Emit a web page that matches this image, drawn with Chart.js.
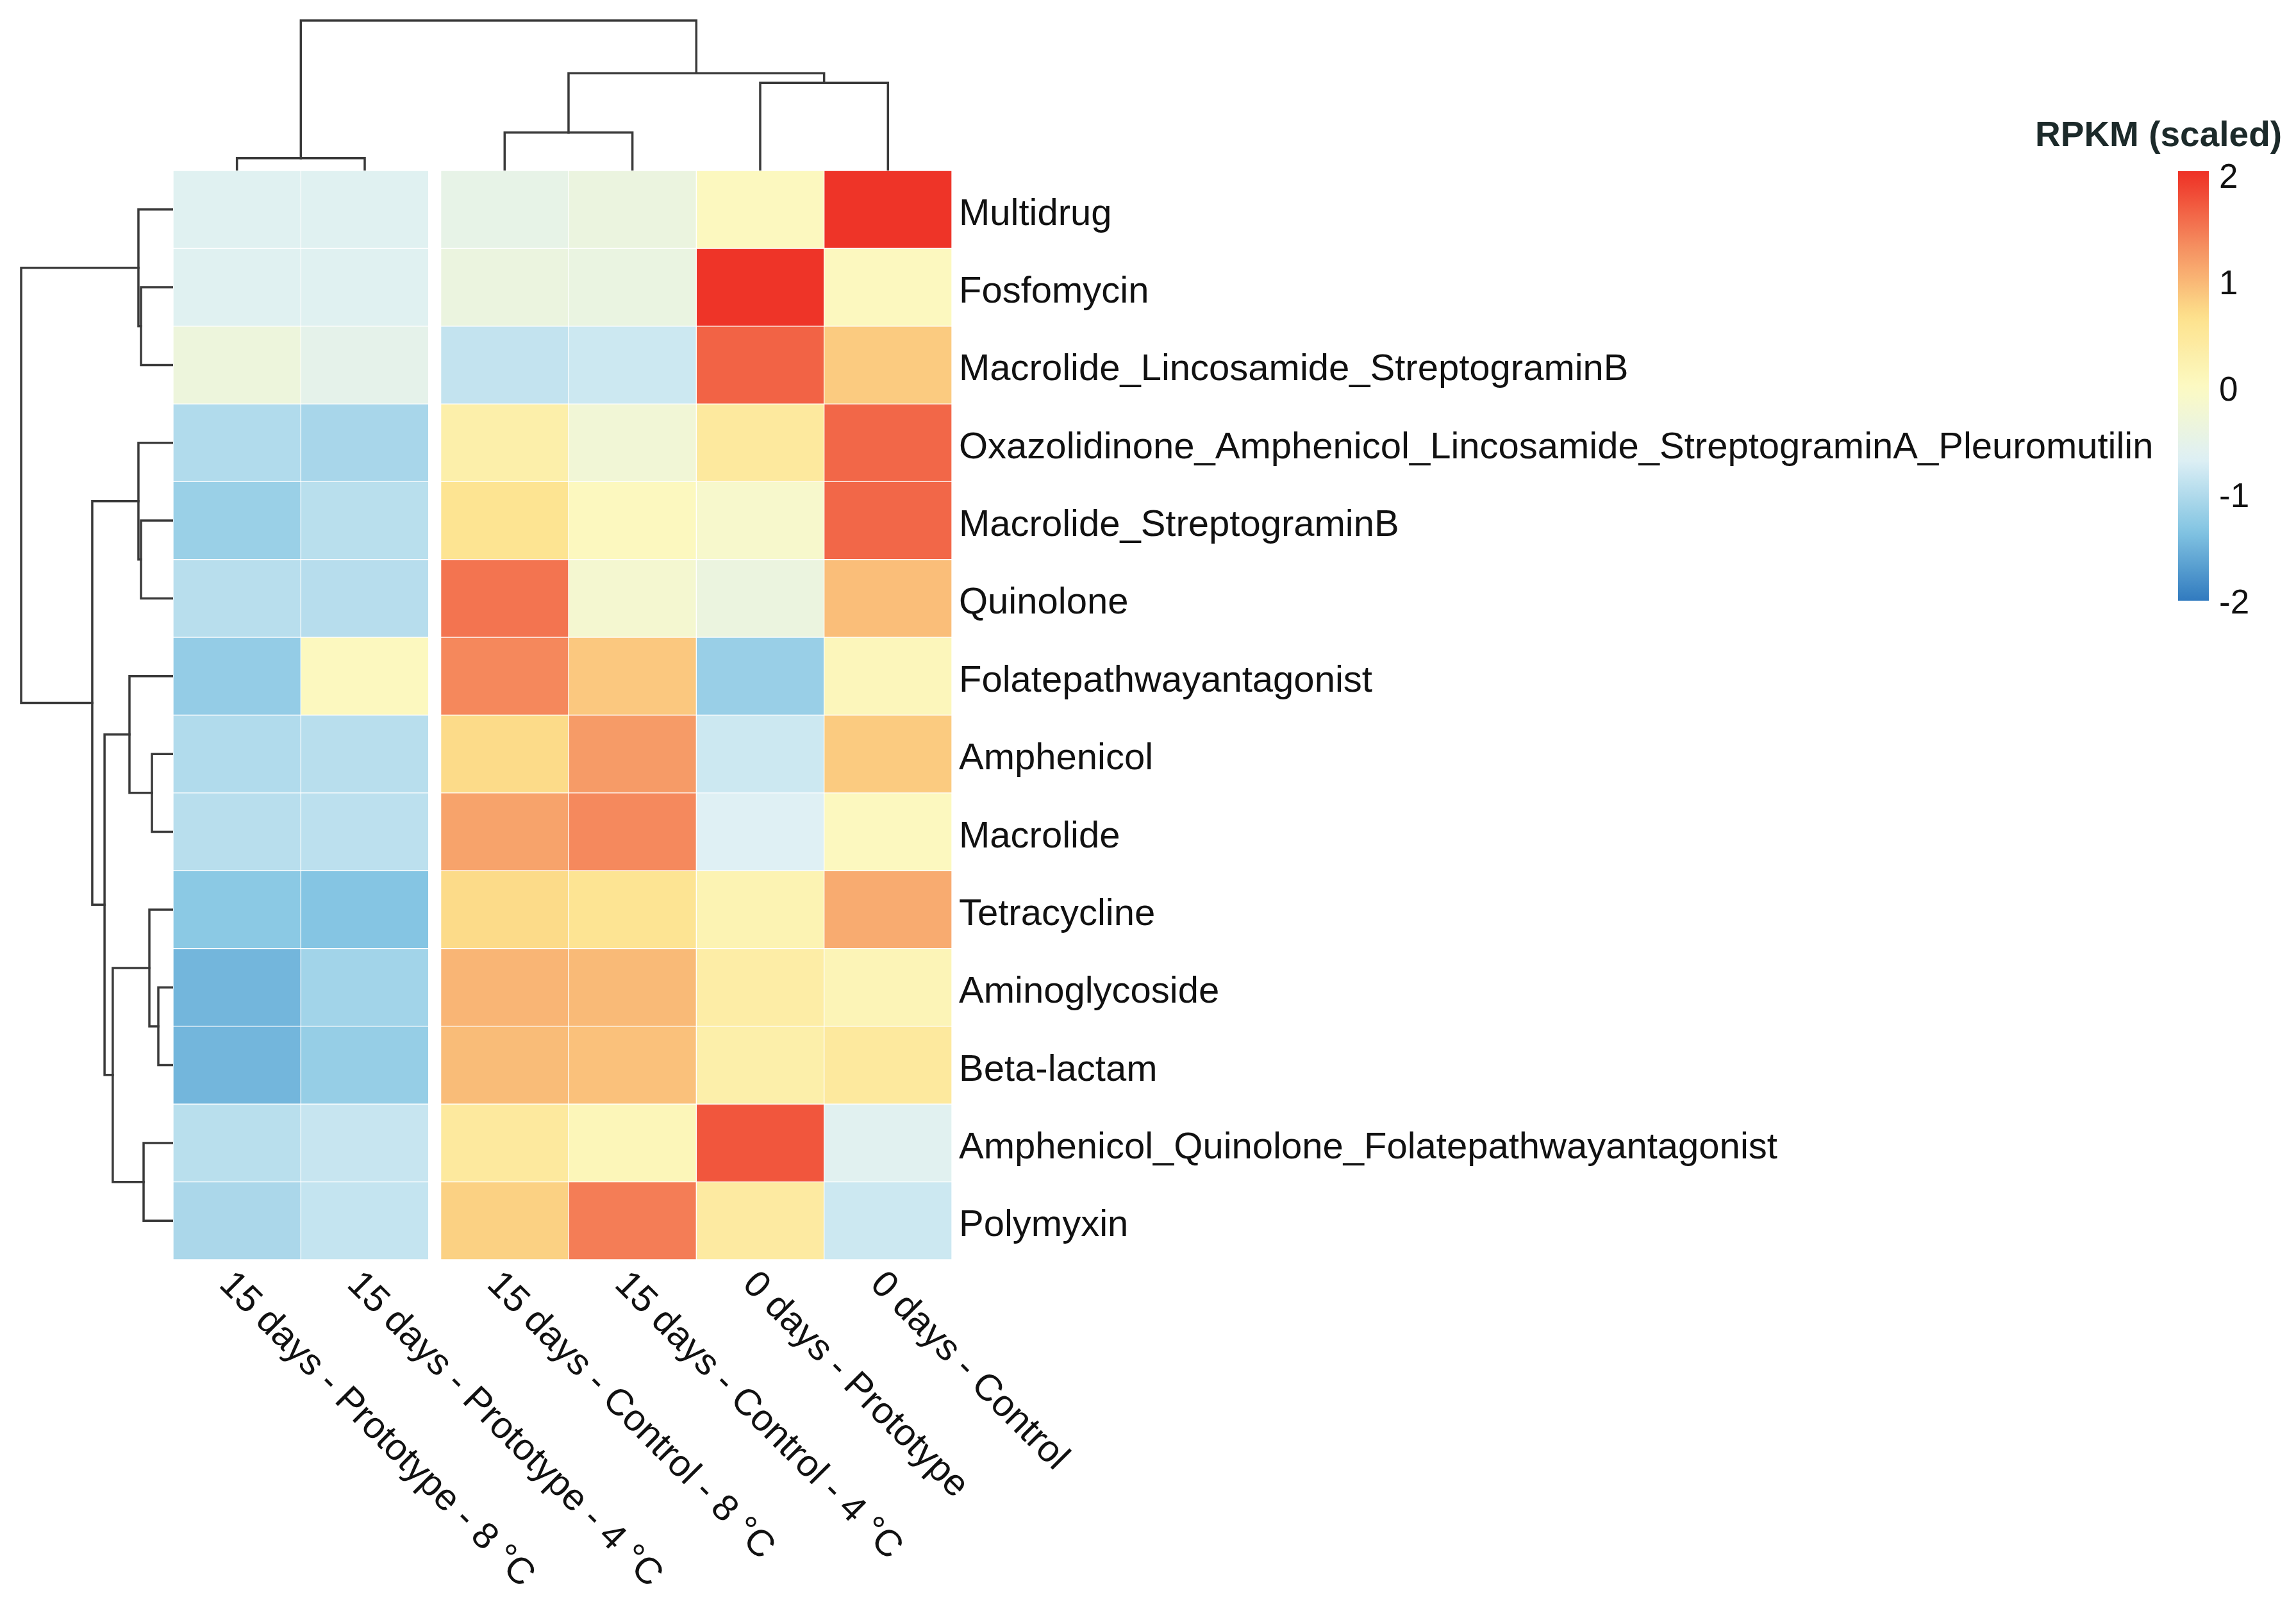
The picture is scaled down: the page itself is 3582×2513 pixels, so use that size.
<!DOCTYPE html>
<html>
<head>
<meta charset="utf-8">
<script src="https://cdn.jsdelivr.net/npm/chart.js@4.4.1/dist/chart.umd.min.js"></script>
<style>
  html, body { margin: 0; padding: 0; background: #ffffff; }
  body { width: 3582px; height: 2513px; position: relative; overflow: hidden; }
  .layer { position: absolute; }
  canvas { display: block; }
</style>
</head>
<body>
<div class="layer" style="left:0;top:0;"><canvas id="heat" width="3582" height="2513"></canvas></div>
<div class="layer" style="left:270px;top:0;"><canvas id="topTree" width="1215" height="266"></canvas></div>
<div class="layer" style="left:0;top:266px;"><canvas id="leftTree" width="270" height="1699"></canvas></div>
<div class="layer" style="left:3150px;top:150px;"><canvas id="legend" width="432" height="850"></canvas></div>
<script>
// ---------------- DATA ----------------
const rowLabels = [
  "Multidrug",
  "Fosfomycin",
  "Macrolide_Lincosamide_StreptograminB",
  "Oxazolidinone_Amphenicol_Lincosamide_StreptograminA_Pleuromutilin",
  "Macrolide_StreptograminB",
  "Quinolone",
  "Folatepathwayantagonist",
  "Amphenicol",
  "Macrolide",
  "Tetracycline",
  "Aminoglycoside",
  "Beta-lactam",
  "Amphenicol_Quinolone_Folatepathwayantagonist",
  "Polymyxin"
];
const colLabels = [
  "15 days - Prototype - 8 °C",
  "15 days - Prototype - 4 °C",
  "15 days - Control - 8 °C",
  "15 days - Control - 4 °C",
  "0 days - Prototype",
  "0 days - Control"
];
// scaled RPKM, one array per sample (column), rows in the order of rowLabels
const prototype15d8C = [-0.62, -0.62, -0.33, -1.00, -1.17, -0.95, -1.22, -1.00, -0.95, -1.28, -1.47, -1.47, -0.94, -1.05];
const prototype15d4C = [-0.62, -0.62, -0.52, -1.07, -0.94, -0.96,  0.05, -0.95, -0.92, -1.33, -1.11, -1.20, -0.84, -0.86];
const control15d8C   = [-0.48, -0.37, -0.87,  0.30,  0.60,  1.53,  1.38,  0.72,  1.17,  0.72,  1.02,  0.97,  0.45,  0.80];
const control15d4C   = [-0.37, -0.40, -0.80, -0.25,  0.05, -0.18,  0.87,  1.23,  1.37,  0.58,  0.98,  0.93,  0.12,  1.46];
const prototype0d    = [ 0.05,  2.00,  1.65,  0.45, -0.12, -0.38, -1.18, -0.80, -0.65,  0.20,  0.35,  0.30,  1.75,  0.42];
const control0d      = [ 2.00,  0.05,  0.85,  1.62,  1.62,  0.95,  0.10,  0.85,  0.05,  1.10,  0.15,  0.45, -0.60, -0.80];
const columnSeries = [prototype15d8C, prototype15d4C, control15d8C, control15d4C, prototype0d, control0d];

// hclust-style merges: negative = leaf (1-based), positive = earlier merge; third = relative height
const colMerges = [[-1, -2, 0.082], [-3, -4, 0.253], [-5, -6, 0.584], [2, 3, 0.648], [1, 4, 1.0]];
const rowMerges = [
  [-2, -3, 0.211], [-1, 1, 0.228],
  [-5, -6, 0.211], [-4, 3, 0.228],
  [-8, -9, 0.139], [-7, 5, 0.287],
  [-11, -12, 0.097], [-10, 7, 0.156],
  [-13, -14, 0.194], [8, 9, 0.397],
  [6, 10, 0.451], [4, 11, 0.532],
  [2, 12, 1.0]
];
const legendTicks = [2, 1, 0, -1, -2];
const legendRange = [-2.0, 2.036];
const legendTitle = "RPKM (scaled)";

// ---------------- STYLE / LAYOUT ----------------
const FONT = "'Liberation Sans', Arial, Helvetica, sans-serif";
const TEXT = "#111111";
const TREE_COLOR = "#3a3a3a";
const TREE_WIDTH = 3.5;
const GAP = 0.095; // gap between the two column clusters, in cell widths
const PALETTE = [
  [-2.02, [46, 120, 190]],
  [-1.35, [130, 196, 226]],
  [-0.67, [222, 240, 245]],
  [0.00, [252, 250, 195]],
  [0.67, [253, 225, 140]],
  [1.35, [245, 140, 95]],
  [2.02, [238, 49, 38]]
];
function colorFor(v) {
  if (v <= PALETTE[0][0]) return rgb(PALETTE[0][1]);
  for (let i = 1; i < PALETTE.length; i++) {
    if (v <= PALETTE[i][0]) {
      const [v0, c0] = PALETTE[i - 1], [v1, c1] = PALETTE[i];
      const t = (v - v0) / (v1 - v0);
      return rgb(c0.map((c, k) => c + (c1[k] - c) * t));
    }
  }
  return rgb(PALETTE[PALETTE.length - 1][1]);
}
function rgb(c) { return `rgb(${Math.round(c[0])},${Math.round(c[1])},${Math.round(c[2])})`; }

const colStart = i => i + (i >= 2 ? GAP : 0);
const colCenter = i => colStart(i) + 0.5;
const rowCenter = i => i + 0.5;

function dendroSegments(merges, leafPos) {
  const pos = [], hgt = [];
  const node = k => k < 0 ? { p: leafPos(-k - 1), h: 0 } : { p: pos[k - 1], h: hgt[k - 1] };
  return merges.map(([a, b, h]) => {
    const A = node(a), B = node(b);
    pos.push((A.p + B.p) / 2); hgt.push(h);
    return [[A.p, A.h], [A.p, h], [B.p, h], [B.p, B.h]];
  });
}

const common = {
  responsive: false, animation: false, devicePixelRatio: 1,
  plugins: { legend: { display: false }, tooltip: { enabled: false }, title: { display: false } },
  events: []
};

// ---------------- HEATMAP ----------------
const labelPlugin = {
  id: 'labels',
  afterDatasetsDraw(chart) {
    const { ctx, chartArea, scales } = chart;
    ctx.save();
    ctx.fillStyle = TEXT;
    ctx.font = `58px ${FONT}`;
    ctx.textAlign = 'left';
    ctx.textBaseline = 'middle';
    rowLabels.forEach((l, i) => ctx.fillText(l, chartArea.right + 11, scales.y.getPixelForValue(i) + 8));
    colLabels.forEach((l, i) => {
      const px = scales.x.getPixelForValue(colCenter(i));
      ctx.save();
      ctx.translate(px + 2, chartArea.bottom + 9);
      ctx.rotate(Math.PI / 4);
      ctx.textBaseline = 'top';
      ctx.fillText(l, 0, 0);
      ctx.restore();
    });
    ctx.restore();
  }
};

new Chart(document.getElementById('heat'), {
  type: 'bar',
  data: {
    labels: rowLabels,
    datasets: columnSeries.map((vals, ci) => ({
      label: colLabels[ci],
      data: vals.map(() => [colStart(ci), colStart(ci) + 1]),
      backgroundColor: vals.map(colorFor),
      borderColor: 'rgba(255,255,255,0.22)',
      borderWidth: 1,
      borderSkipped: false,
      grouped: false,
      barPercentage: 1,
      categoryPercentage: 1
    }))
  },
  options: Object.assign({}, common, {
    indexAxis: 'y',
    layout: { padding: { left: 270, right: 3582 - 1485, top: 266, bottom: 2513 - 1965 } },
    scales: {
      x: { type: 'linear', display: false, min: 0, max: 6 + GAP },
      y: { type: 'category', display: false }
    }
  }),
  plugins: [labelPlugin]
});

// ---------------- DENDROGRAMS ----------------
const lineDs = pts => ({
  data: pts, showLine: true, borderColor: TREE_COLOR, borderWidth: TREE_WIDTH,
  pointRadius: 0, tension: 0, clip: false, borderCapStyle: 'square', borderJoinStyle: 'miter'
});

new Chart(document.getElementById('topTree'), {
  type: 'scatter',
  data: {
    datasets: dendroSegments(colMerges, i => colCenter(i))
      .map(seg => lineDs(seg.map(([p, h]) => ({ x: p, y: h }))))
  },
  options: Object.assign({}, common, {
    layout: { padding: { left: 0, right: 0, top: 32, bottom: 0 } },
    scales: {
      x: { type: 'linear', display: false, min: 0, max: 6 + GAP },
      y: { type: 'linear', display: false, min: 0, max: 1 }
    }
  })
});

new Chart(document.getElementById('leftTree'), {
  type: 'scatter',
  data: {
    datasets: dendroSegments(rowMerges, i => rowCenter(i))
      .map(seg => lineDs(seg.map(([p, h]) => ({ x: h, y: p }))))
  },
  options: Object.assign({}, common, {
    layout: { padding: { left: 33, right: 0, top: 0, bottom: 0 } },
    scales: {
      x: { type: 'linear', display: false, min: 0, max: 1, reverse: true },
      y: { type: 'linear', display: false, min: 0, max: rowLabels.length, reverse: true }
    }
  })
});

// ---------------- COLOUR LEGEND ----------------
const legendPlugin = {
  id: 'legendText',
  afterDatasetsDraw(chart) {
    const { ctx, chartArea, scales } = chart;
    ctx.save();
    ctx.fillStyle = TEXT;
    ctx.textAlign = 'left';
    ctx.textBaseline = 'middle';
    ctx.font = `bold 55px ${FONT}`;
    ctx.fillStyle = '#1c2a2a';
    ctx.fillText(legendTitle, 25, 63);
    ctx.fillStyle = TEXT;
    ctx.font = `53px ${FONT}`;
    legendTicks.forEach(t => ctx.fillText(String(t), chartArea.right + 16, scales.y.getPixelForValue(t) + 5));
    ctx.restore();
  }
};

new Chart(document.getElementById('legend'), {
  type: 'bar',
  data: {
    labels: [legendTitle],
    datasets: [{
      data: [legendRange],
      backgroundColor: (c) => {
        const ch = c.chart;
        if (!ch.chartArea) return 'transparent';
        const ys = ch.scales.y;
        const y0 = ys.getPixelForValue(legendRange[0]), y1 = ys.getPixelForValue(legendRange[1]);
        const g = ch.ctx.createLinearGradient(0, y0, 0, y1);
        const n = 40;
        for (let k = 0; k <= n; k++) {
          const v = legendRange[0] + (legendRange[1] - legendRange[0]) * k / n;
          g.addColorStop(k / n, colorFor(v));
        }
        return g;
      },
      borderWidth: 0,
      barPercentage: 1,
      categoryPercentage: 1
    }]
  },
  options: Object.assign({}, common, {
    layout: { padding: { left: 248, right: 136, top: 117, bottom: 63 } },
    scales: {
      x: { display: false },
      y: { type: 'linear', display: false, min: legendRange[0], max: legendRange[1] }
    }
  }),
  plugins: [legendPlugin]
});
</script>
</body>
</html>
